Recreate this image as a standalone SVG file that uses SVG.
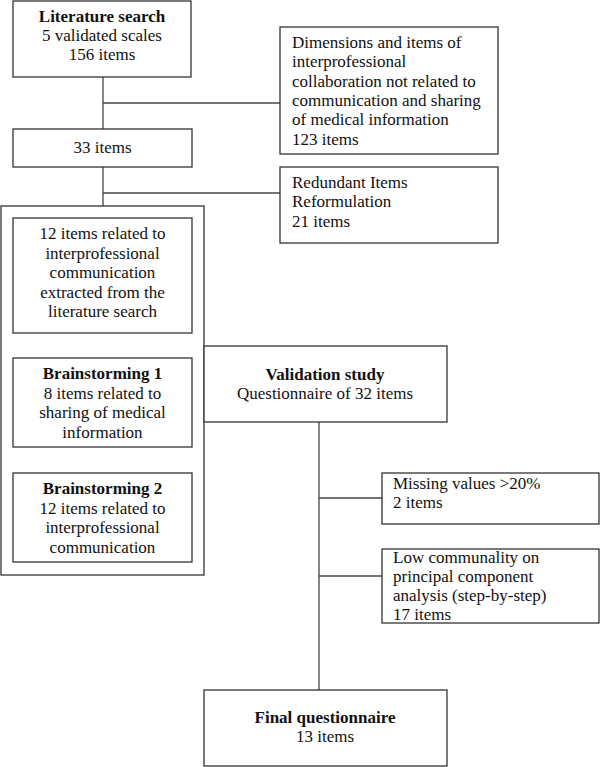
<svg xmlns="http://www.w3.org/2000/svg" width="600" height="767" viewBox="0 0 600 767">
<style>
rect{fill:#fff;stroke:#333;stroke-width:1.3}
.c line{stroke:#444;stroke-width:1.3}
text{font-family:"Liberation Serif","Times New Roman",serif;font-size:17px;fill:#111}
.m{text-anchor:middle}
.b{font-weight:bold}
</style>
<rect width="600" height="767" style="fill:#fff;stroke:none"/>
<g class="c" id="connectors">
<line x1="103" y1="77" x2="103" y2="129"/>
<line x1="103" y1="103" x2="280" y2="103"/>
<line x1="103" y1="167" x2="103" y2="218"/>
<line x1="103" y1="193" x2="280" y2="193"/>
<line x1="319" y1="422" x2="319" y2="690"/>
<line x1="319" y1="498" x2="382" y2="498"/>
<line x1="319" y1="576" x2="382" y2="576"/>
</g>
<g id="container"><rect x="1" y="206" width="203" height="369"/></g>
<g id="lit">
<rect x="13" y="1" width="178" height="76"/>
<text class="m b" x="102" y="22">Literature search</text>
<text class="m" x="102" y="41">5 validated scales</text>
<text class="m" x="102" y="60">156 items</text>
</g>
<g id="dims">
<rect x="280" y="27" width="218" height="127"/>
<text x="292" y="48">Dimensions and items of</text>
<text x="292" y="67.3">interprofessional</text>
<text x="292" y="86.6">collaboration not related to</text>
<text x="292" y="105.9">communication and sharing</text>
<text x="292" y="125.2">of medical information</text>
<text x="292" y="144.5">123 items</text>
</g>
<g id="n33">
<rect x="13" y="129" width="179" height="38"/>
<text class="m" x="102.5" y="153">33 items</text>
</g>
<g id="redundant">
<rect x="280" y="167" width="218" height="76"/>
<text x="292" y="188">Redundant Items</text>
<text x="292" y="207.3">Reformulation</text>
<text x="292" y="226.6">21 items</text>
</g>
<g id="items12">
<rect x="13" y="218" width="179" height="115"/>
<text class="m" x="102.5" y="239">12 items related to</text>
<text class="m" x="102.5" y="258.5">interprofessional</text>
<text class="m" x="102.5" y="278">communication</text>
<text class="m" x="102.5" y="297.5">extracted from the</text>
<text class="m" x="102.5" y="317">literature search</text>
</g>
<g id="brain1">
<rect x="13" y="358" width="179" height="89"/>
<text class="m b" x="102.5" y="379">Brainstorming 1</text>
<text class="m" x="102.5" y="398.5">8 items related to</text>
<text class="m" x="102.5" y="418">sharing of medical</text>
<text class="m" x="102.5" y="437.5">information</text>
</g>
<g id="brain2">
<rect x="13" y="473" width="179" height="89"/>
<text class="m b" x="102.5" y="494">Brainstorming 2</text>
<text class="m" x="102.5" y="513.5">12 items related to</text>
<text class="m" x="102.5" y="533">interprofessional</text>
<text class="m" x="102.5" y="552.5">communication</text>
</g>
<g id="validation">
<rect x="204" y="346" width="243" height="76"/>
<text class="m b" x="325" y="380">Validation study</text>
<text class="m" x="325" y="399">Questionnaire of 32 items</text>
</g>
<g id="missing">
<rect x="382" y="473" width="217" height="51"/>
<text x="393" y="489">Missing values &gt;20%</text>
<text x="393" y="508">2 items</text>
</g>
<g id="lowcomm">
<rect x="382" y="549" width="217" height="74"/>
<text x="393" y="563">Low communality on</text>
<text x="393" y="582">principal component</text>
<text x="393" y="601">analysis (step-by-step)</text>
<text x="393" y="620">17 items</text>
</g>
<g id="final">
<rect x="204" y="690" width="243" height="76"/>
<text class="m b" x="325" y="723">Final questionnaire</text>
<text class="m" x="325" y="742">13 items</text>
</g>
</svg>
